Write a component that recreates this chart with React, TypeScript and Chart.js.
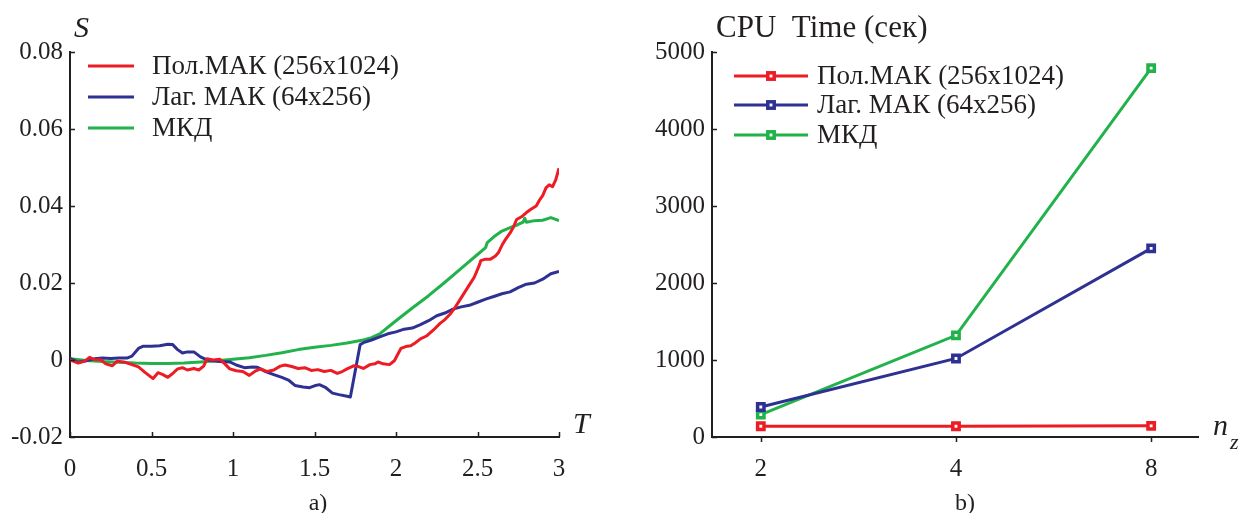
import React, { useEffect, useRef } from "react";
import { Chart, registerables } from "chart.js";

Chart.register(...registerables);

const FONT = "'Liberation Serif', 'Times New Roman', serif";
const INK = "#231f20";
const RED = "#ed1c24";
const BLUE = "#2e3192";
const GREEN = "#21b24b";

const SERIES_NAMES = ["Пол.МАК (256x1024)", "Лаг. МАК (64x256)", "МКД"];

// ---- chart a): S(T)
const T_POL = [
  0.0, 0.05, 0.09, 0.12, 0.15, 0.19, 0.22, 0.26, 0.29, 0.33, 0.38, 0.42, 0.46, 0.49, 0.51, 0.54,
  0.57, 0.6, 0.63, 0.66, 0.69, 0.72, 0.76, 0.79, 0.82, 0.84, 0.88, 0.92, 0.95, 0.98, 1.02, 1.06,
  1.1, 1.14, 1.17, 1.21, 1.25, 1.29, 1.32, 1.36, 1.4, 1.44, 1.48, 1.52, 1.56, 1.6, 1.64, 1.67,
  1.7, 1.74, 1.77, 1.8, 1.84, 1.87, 1.89, 1.92, 1.96, 1.99, 2.03, 2.06, 2.09, 2.12, 2.15, 2.19,
  2.23, 2.27, 2.3, 2.33, 2.36, 2.39, 2.42, 2.45, 2.48, 2.51, 2.52, 2.55, 2.58, 2.61, 2.63, 2.65,
  2.67, 2.7, 2.72, 2.74, 2.77, 2.8, 2.83, 2.86, 2.88, 2.9, 2.92, 2.94, 2.96, 2.98, 3.0,
];
const S_POL = [
  0.0, -0.0008, -0.0003, 0.0007, 0.0001, 0.0, -0.001, -0.0015, -0.0003, -0.0005, -0.0012, -0.0018,
  -0.0032, -0.0042, -0.0048, -0.0033, -0.0038, -0.0045, -0.0035, -0.0023, -0.002, -0.0026, -0.0022,
  -0.0026, -0.0016, 0.0003, 0.0, 0.0002, -0.001, -0.0023, -0.0028, -0.003, -0.004, -0.0028, -0.0023,
  -0.003, -0.0026, -0.0016, -0.0013, -0.0017, -0.0022, -0.002, -0.0027, -0.0025, -0.003, -0.0027,
  -0.0035, -0.003, -0.0023, -0.0015, -0.0017, -0.0022, -0.0012, -0.001, -0.0005, -0.001, -0.0012,
  -0.0002, 0.003, 0.0035, 0.0037, 0.0045, 0.0055, 0.0063, 0.0078, 0.0095, 0.0105, 0.0118, 0.0135,
  0.0155, 0.0175, 0.0195, 0.0215, 0.0245, 0.0258, 0.0262, 0.0262, 0.027, 0.028, 0.0298, 0.0312,
  0.033, 0.0345, 0.0365, 0.0372, 0.0383, 0.0392, 0.04, 0.0415, 0.0427, 0.0447, 0.0455, 0.045, 0.0468,
  0.0498,
];

const T_LAG = [
  0.0, 0.05, 0.1, 0.15, 0.2, 0.25, 0.3, 0.35, 0.38, 0.42, 0.45, 0.5, 0.55, 0.6, 0.63, 0.66, 0.69,
  0.72, 0.76, 0.8, 0.83, 0.87, 0.92, 0.98, 1.02, 1.07, 1.12, 1.15, 1.2, 1.25, 1.3, 1.34, 1.38, 1.43,
  1.47, 1.5, 1.53, 1.57, 1.61, 1.65, 1.7, 1.72, 1.78, 1.8, 1.85, 1.9, 1.95, 2.0, 2.05, 2.1, 2.15, 2.2,
  2.25, 2.3, 2.35, 2.4, 2.45, 2.5, 2.55, 2.6, 2.65, 2.7, 2.75, 2.8, 2.85, 2.9, 2.95, 3.0,
];
const S_LAG = [
  0.0004, -0.0006, -0.0002, 0.0003, 0.0005, 0.0004, 0.0005, 0.0005, 0.001, 0.003, 0.0036, 0.0036,
  0.0037, 0.0041, 0.004, 0.0027, 0.0018, 0.0021, 0.0021, 0.0008, 0.0002, -0.0002, -0.0004, -0.0005,
  -0.0013, -0.002, -0.0018, -0.0019, -0.003, -0.0038, -0.0045, -0.0052, -0.0066, -0.007, -0.0072,
  -0.0067, -0.0064, -0.0072, -0.0086, -0.009, -0.0094, -0.0096, 0.004, 0.0045, 0.0052, 0.006, 0.0068,
  0.0073, 0.008, 0.0083, 0.0092, 0.0102, 0.0115, 0.0122, 0.0132, 0.0138, 0.0142, 0.015, 0.0158,
  0.0165, 0.0172, 0.0177, 0.0188, 0.0197, 0.02, 0.021, 0.0224, 0.023,
];

const T_MKD = [
  0.0, 0.1, 0.2, 0.3, 0.4, 0.5, 0.6, 0.7, 0.8, 0.9, 1.0, 1.1, 1.2, 1.3, 1.4, 1.5, 1.6, 1.7, 1.8,
  1.85, 1.9, 2.0, 2.1, 2.2, 2.3, 2.4, 2.5, 2.55, 2.56, 2.6, 2.65, 2.7, 2.75, 2.78, 2.79, 2.8, 2.85,
  2.9, 2.95, 3.0,
];
const S_MKD = [
  0.0003, -0.0001, -0.0004, -0.0006, -0.0008, -0.0009, -0.0009, -0.0008, -0.0005, -0.0002, 0.0002,
  0.0006, 0.0012, 0.0019, 0.0027, 0.0033, 0.0038, 0.0044, 0.0052, 0.0058, 0.0068, 0.0102, 0.0135,
  0.0167, 0.0202, 0.0238, 0.0274, 0.0292, 0.0305, 0.032, 0.0335, 0.0344, 0.0352, 0.0358, 0.0368,
  0.0358, 0.0362, 0.0363, 0.037, 0.0362,
];

// ---- chart b): CPU time vs n_z
const NZ_LABELS = ["2", "4", "8"];
const CPU_POL = [140, 140, 145];
const CPU_LAG = [390, 1020, 2450];
const CPU_MKD = [290, 1320, 4790];

const pts = (xs: number[], ys: number[]) => xs.map((x, i) => ({ x, y: ys[i] }));

type TextItem = { text: string; x: number; y: number; font: string; align?: CanvasTextAlign };

const tickMarksPlugin = (xDir: number, yDir: number, len = 5) => ({
  id: "tickMarks",
  afterDatasetsDraw(chart: any) {
    const { ctx, chartArea: a } = chart;
    const x = chart.scales.x;
    const y = chart.scales.y;
    ctx.save();
    ctx.strokeStyle = INK;
    ctx.lineWidth = 1.5;
    ctx.beginPath();
    x.ticks.forEach((t: any) => {
      const px = Math.round(x.getPixelForValue(t.value)) + 0.5;
      ctx.moveTo(px, a.bottom);
      ctx.lineTo(px, a.bottom + xDir * len);
    });
    y.ticks.forEach((t: any) => {
      const py = Math.round(y.getPixelForValue(t.value)) + 0.5;
      ctx.moveTo(a.left, py);
      ctx.lineTo(a.left + yDir * len, py);
    });
    ctx.stroke();
    ctx.restore();
  },
});

const legendPlugin = (
  colors: string[],
  x0: number,
  x1: number,
  tx: number,
  ys: number[],
  marker: boolean
) => ({
  id: "customLegend",
  afterDraw(chart: any) {
    const ctx = chart.ctx;
    ctx.save();
    SERIES_NAMES.forEach((name, i) => {
      const y = ys[i];
      ctx.strokeStyle = colors[i];
      ctx.lineWidth = 3;
      ctx.beginPath();
      ctx.moveTo(x0, y);
      ctx.lineTo(x1, y);
      ctx.stroke();
      if (marker) {
        const mx = (x0 + x1) / 2;
        ctx.fillStyle = "#ffffff";
        ctx.fillRect(mx - 3.2, y - 3.2, 6.4, 6.4);
        ctx.lineWidth = 3.5;
        ctx.strokeRect(mx - 3.2, y - 3.2, 6.4, 6.4);
      }
      ctx.fillStyle = INK;
      ctx.font = `27px ${FONT}`;
      ctx.textAlign = "left";
      ctx.textBaseline = "middle";
      ctx.fillText(name, tx, y + 1);
    });
    ctx.restore();
  },
});

const textPlugin = (items: TextItem[]) => ({
  id: "extraText",
  afterDraw(chart: any) {
    const ctx = chart.ctx;
    ctx.save();
    ctx.fillStyle = INK;
    ctx.textBaseline = "alphabetic";
    items.forEach((it) => {
      ctx.font = it.font;
      ctx.textAlign = it.align || "left";
      ctx.fillText(it.text, it.x, it.y);
    });
    ctx.restore();
  },
});

const tickFont = { family: FONT, size: 25 };

function makeLeft(canvas: HTMLCanvasElement) {
  return new Chart(canvas, {
    type: "line",
    data: {
      datasets: [
        { label: SERIES_NAMES[0], data: pts(T_POL, S_POL), borderColor: RED },
        { label: SERIES_NAMES[1], data: pts(T_LAG, S_LAG), borderColor: BLUE },
        { label: SERIES_NAMES[2], data: pts(T_MKD, S_MKD), borderColor: GREEN },
      ].map((d) => ({
        ...d,
        borderWidth: 3,
        pointRadius: 0,
        tension: 0,
        borderJoinStyle: "round" as const,
        fill: false,
      })),
    },
    options: {
      responsive: false,
      animation: false,
      events: [],
      layout: { padding: { left: 0, top: 52, right: 62, bottom: 26 } },
      plugins: { legend: { display: false }, tooltip: { enabled: false } },
      scales: {
        x: {
          type: "linear",
          min: 0,
          max: 3,
          afterFit: (s: any) => {
            s.height = 50;
          },
          grid: { display: false, drawTicks: false },
          border: { display: true, color: INK, width: 2 },
          ticks: {
            stepSize: 0.5,
            autoSkip: false,
            maxRotation: 0,
            padding: 17,
            color: INK,
            font: tickFont,
            callback: (v: any) => String(Math.round(Number(v) * 10) / 10),
          },
        },
        y: {
          type: "linear",
          min: -0.02,
          max: 0.08,
          afterFit: (s: any) => {
            s.width = 70;
          },
          grid: { display: false, drawTicks: false },
          border: { display: true, color: INK, width: 2 },
          ticks: {
            stepSize: 0.02,
            padding: 7,
            color: INK,
            font: tickFont,
            callback: (v: any) => {
              const n = Number(v);
              return Math.abs(n) < 1e-9 ? "0" : n.toFixed(2);
            },
          },
        },
      },
    },
    plugins: [
      tickMarksPlugin(-1, 1),
      legendPlugin([RED, BLUE, GREEN], 88, 134, 152, [66, 97, 128], false),
      textPlugin([
        { text: "S", x: 74, y: 37, font: `italic 30px ${FONT}` },
        { text: "T", x: 573, y: 433, font: `italic 30px ${FONT}` },
        { text: "a)", x: 318, y: 510, font: `24px ${FONT}`, align: "center" },
      ]),
    ],
  } as any);
}

function makeRight(canvas: HTMLCanvasElement) {
  const idx = NZ_LABELS.map((_, i) => i);
  return new Chart(canvas, {
    type: "line",
    data: {
      datasets: [
        { label: SERIES_NAMES[0], data: pts(idx, CPU_POL), borderColor: RED },
        { label: SERIES_NAMES[1], data: pts(idx, CPU_LAG), borderColor: BLUE },
        { label: SERIES_NAMES[2], data: pts(idx, CPU_MKD), borderColor: GREEN },
      ].map((d) => ({
        ...d,
        borderWidth: 3,
        pointStyle: "rect",
        pointRadius: 4.5,
        pointBorderWidth: 3.5,
        pointBorderColor: d.borderColor,
        pointBackgroundColor: "#ffffff",
        tension: 0,
        fill: false,
      })),
    },
    options: {
      responsive: false,
      animation: false,
      events: [],
      layout: { padding: { left: 0, top: 52, right: 44, bottom: 26 } },
      plugins: { legend: { display: false }, tooltip: { enabled: false } },
      scales: {
        x: {
          type: "linear",
          min: -0.25,
          max: 2.24,
          afterBuildTicks: (s: any) => {
            s.ticks = idx.map((v) => ({ value: v }));
          },
          afterFit: (s: any) => {
            s.height = 50;
          },
          grid: { display: false, drawTicks: false },
          border: { display: true, color: INK, width: 2 },
          ticks: {
            autoSkip: false,
            maxRotation: 0,
            padding: 17,
            color: INK,
            font: tickFont,
            callback: (v: any) => NZ_LABELS[Math.round(Number(v))] ?? "",
          },
        },
        y: {
          type: "linear",
          min: 0,
          max: 5000,
          afterFit: (s: any) => {
            s.width = 91;
          },
          grid: { display: false, drawTicks: false },
          border: { display: true, color: INK, width: 2 },
          ticks: {
            stepSize: 1000,
            padding: 7,
            color: INK,
            font: tickFont,
            callback: (v: any) => String(Math.round(Number(v))),
          },
        },
      },
    },
    plugins: [
      tickMarksPlugin(1, 1),
      legendPlugin([RED, BLUE, GREEN], 113, 187, 196, [76, 105, 135], true),
      textPlugin([
        { text: "CPU  Time (сек)", x: 95, y: 37, font: `31px ${FONT}` },
        { text: "n", x: 592, y: 435, font: `italic 30px ${FONT}` },
        { text: "z", x: 609, y: 449, font: `italic 22px ${FONT}` },
        { text: "b)", x: 344, y: 510, font: `24px ${FONT}`, align: "center" },
      ]),
    ],
  } as any);
}

export default function App() {
  const leftRef = useRef<HTMLCanvasElement | null>(null);
  const rightRef = useRef<HTMLCanvasElement | null>(null);

  useEffect(() => {
    const a = makeLeft(leftRef.current!);
    const b = makeRight(rightRef.current!);
    return () => {
      a.destroy();
      b.destroy();
    };
  }, []);

  return (
    <div
      style={{
        position: "absolute",
        left: 0,
        top: 0,
        width: 1242,
        height: 513,
        background: "#ffffff",
        overflow: "hidden",
      }}
    >
      <canvas
        ref={leftRef}
        width={621}
        height={513}
        style={{ position: "absolute", left: 0, top: 0, width: 621, height: 513 }}
      />
      <canvas
        ref={rightRef}
        width={621}
        height={513}
        style={{ position: "absolute", left: 621, top: 0, width: 621, height: 513 }}
      />
    </div>
  );
}
